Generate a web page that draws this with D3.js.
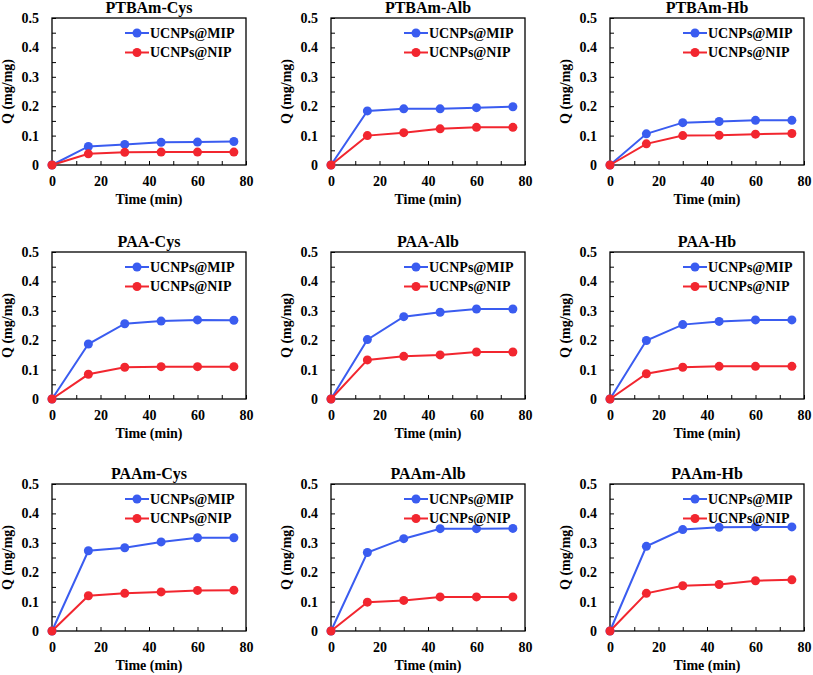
<!DOCTYPE html>
<html>
<head>
<meta charset="utf-8">
<script src="https://cdn.jsdelivr.net/npm/d3@7"></script>
<style>
  body { margin: 0; background: #fff; }
  svg { display: block; }
</style>
</head>
<body>
<div id="chart"></div>
<script>
// ---- data ----
const times = [0, 15, 30, 45, 60, 75];
const panelTitles = [
  "PTBAm-Cys", "PTBAm-Alb", "PTBAm-Hb",
  "PAA-Cys", "PAA-Alb", "PAA-Hb",
  "PAAm-Cys", "PAAm-Alb", "PAAm-Hb"
];
const seriesNames = ["UCNPs@MIP", "UCNPs@NIP"];
const mipValues = [
  [0, 0.063, 0.070, 0.077, 0.078, 0.080],
  [0, 0.184, 0.191, 0.191, 0.195, 0.198],
  [0, 0.106, 0.144, 0.148, 0.152, 0.152],
  [0, 0.187, 0.256, 0.265, 0.269, 0.268],
  [0, 0.202, 0.280, 0.295, 0.306, 0.306],
  [0, 0.199, 0.253, 0.264, 0.269, 0.269],
  [0, 0.273, 0.283, 0.303, 0.317, 0.317],
  [0, 0.267, 0.314, 0.348, 0.348, 0.349],
  [0, 0.288, 0.345, 0.353, 0.354, 0.354]
];
const nipValues = [
  [0, 0.038, 0.043, 0.044, 0.044, 0.044],
  [0, 0.100, 0.110, 0.123, 0.128, 0.128],
  [0, 0.072, 0.100, 0.101, 0.105, 0.107],
  [0, 0.084, 0.108, 0.110, 0.110, 0.110],
  [0, 0.133, 0.145, 0.150, 0.160, 0.160],
  [0, 0.086, 0.108, 0.111, 0.111, 0.111],
  [0, 0.120, 0.128, 0.133, 0.138, 0.139],
  [0, 0.098, 0.104, 0.116, 0.116, 0.116],
  [0, 0.128, 0.154, 0.158, 0.171, 0.174]
];
const xTicks = [0, 10, 20, 30, 40, 50, 60, 70, 80];
const xTickLabels = ["0", "", "20", "", "40", "", "60", "", "80"];
const yTicks = [0, 0.05, 0.1, 0.15, 0.2, 0.25, 0.3, 0.35, 0.4, 0.45, 0.5];
const yTickLabels = ["0", "", "0.1", "", "0.2", "", "0.3", "", "0.4", "", "0.5"];
const xLabel = "Time (min)";
const yLabel = "Q (mg/mg)";

// ---- layout ----
const W = 813, H = 675;
const colLeft = [52, 331, 610];
const rowTop = [18, 252, 484];
const pw = 194, ph = 147;
const colors = ["#3a5cf0", "#f2262f"];
const FONT = "'Liberation Serif', Tinos, 'Times New Roman', serif";

const svg = d3.select("#chart").append("svg").attr("width", W).attr("height", H);

const x = d3.scaleLinear().domain([0, 80]).range([0, pw]);
const y = d3.scaleLinear().domain([0, 0.5]).range([ph, 0]);

function styleText(sel, size) {
  sel.attr("font-family", FONT).style("font-family", FONT)
     .attr("font-weight", "bold").style("font-weight", "bold")
     .attr("font-size", size).style("font-size", size + "px").attr("fill", "#000");
  return sel;
}

panelTitles.forEach((title, i) => {
  const left = colLeft[i % 3], top = rowTop[Math.floor(i / 3)];
  const g = svg.append("g").attr("transform", `translate(${left},${top})`);

  // axes
  const xa = g.append("g").attr("transform", `translate(0,${ph})`)
    .call(d3.axisBottom(x).tickValues(xTicks).tickSizeInner(-4).tickSizeOuter(0)
      .tickPadding(11).tickFormat((d, k) => xTickLabels[k]));
  const ya = g.append("g")
    .call(d3.axisLeft(y).tickValues(yTicks).tickSizeInner(-4).tickSizeOuter(0)
      .tickPadding(13).tickFormat((d, k) => yTickLabels[k]));
  [xa, ya].forEach(a => {
    a.attr("font-family", FONT);
    styleText(a.selectAll("text"), 14);
    a.selectAll("line").attr("stroke", "#000").attr("stroke-width", 1);
    a.select(".domain").remove();
  });

  // frame
  g.append("rect").attr("x", 0).attr("y", 0).attr("width", pw).attr("height", ph)
    .attr("fill", "none").attr("stroke", "#000").attr("stroke-width", 1.3);

  // series
  [mipValues[i], nipValues[i]].forEach((vals, s) => {
    const pts = times.map((t, k) => [t, vals[k]]);
    g.append("path").datum(pts)
      .attr("fill", "none").attr("stroke", colors[s]).attr("stroke-width", 2)
      .attr("d", d3.line().x(d => x(d[0])).y(d => y(d[1])));
    g.selectAll(null).data(pts).enter().append("circle")
      .attr("cx", d => x(d[0])).attr("cy", d => y(d[1])).attr("r", 4.5)
      .attr("fill", colors[s]);
  });

  // legend
  seriesNames.forEach((name, s) => {
    const ly = 15 + s * 19.5;
    g.append("line").attr("x1", 73).attr("x2", 97).attr("y1", ly).attr("y2", ly)
      .attr("stroke", colors[s]).attr("stroke-width", 2);
    g.append("circle").attr("cx", 85).attr("cy", ly).attr("r", 4.5).attr("fill", colors[s]);
    styleText(g.append("text").attr("x", 98).attr("y", ly).attr("dy", "0.35em").text(name), 14);
  });

  // title
  styleText(g.append("text").attr("x", pw / 2).attr("y", -5).attr("text-anchor", "middle").text(title), 16);

  // axis labels
  styleText(g.append("text").attr("x", pw / 2).attr("y", ph + 39).attr("text-anchor", "middle").text(xLabel), 14);
  styleText(g.append("text").attr("transform", `translate(-40,${ph / 2}) rotate(-90)`)
    .attr("text-anchor", "middle").text(yLabel), 14);
});
</script>
</body>
</html>
